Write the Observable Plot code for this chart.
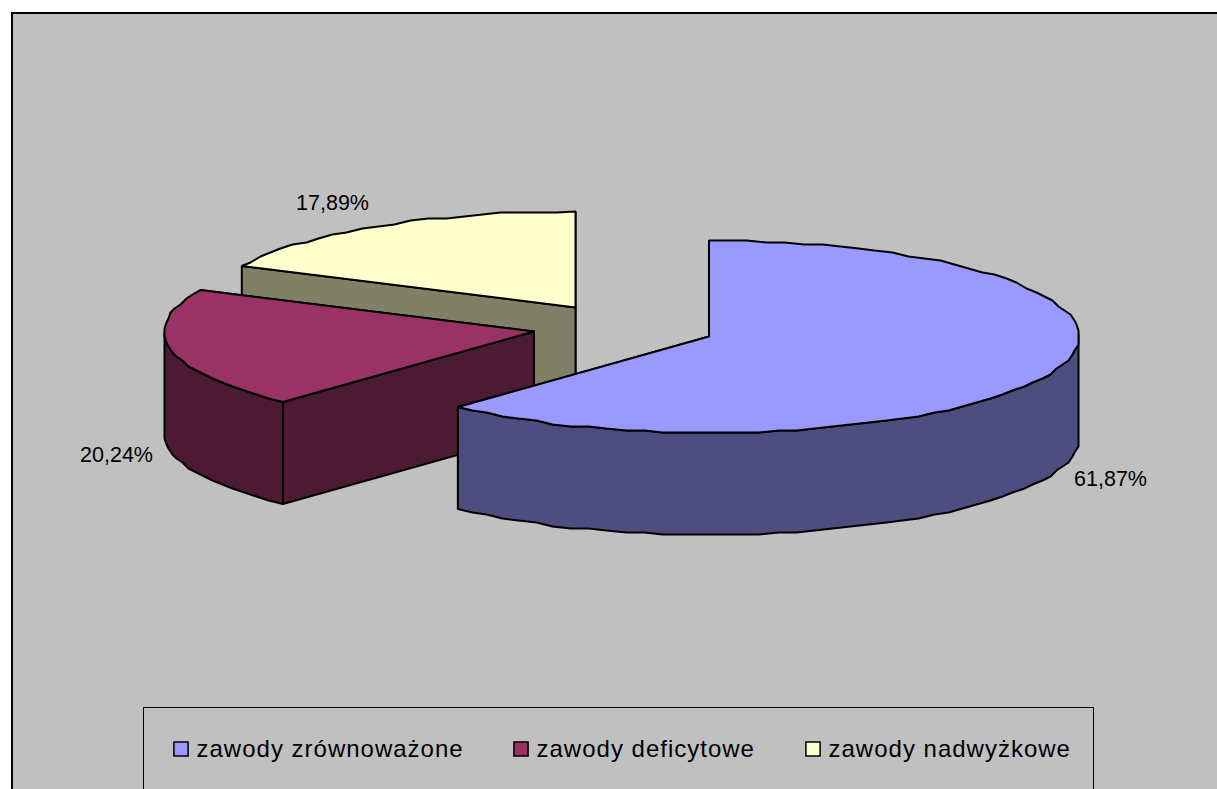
<!DOCTYPE html>
<html><head><meta charset="utf-8">
<script src="https://cdn.jsdelivr.net/npm/d3@7"></script>
<script src="https://cdn.jsdelivr.net/npm/@observablehq/plot@0.6"></script>
<style>html,body{margin:0;padding:0;background:#fff;overflow:hidden}svg{display:block;position:absolute;left:0;top:0}.legend-text text{letter-spacing:1px}</style>
</head><body><div id="chart"></div>
<script>
const categories = ["zawody zrównoważone", "zawody deficytowe", "zawody nadwyżkowe"];
const shares = [61.87, 20.24, 17.89];
const shareLabels = ["61,87%", "20,24%", "17,89%"];
const topColors = ["#9999FF", "#993366", "#FFFFCC"];
const sideColors = ["#4D4D80", "#4D1A33", "#808066"];
const centersX = [708.5, 533.5, 575];
const centersY = [336, 331, 307];
const labelX = [1110, 116, 332];
const labelY = [479, 455, 203];
const legendKeyX = [180.5, 520.5, 812.5];
const legendTextX = [196, 536, 828];
const rx = 370, ry = 96, depth = 102, grid = 2;

const snap = v => Math.round(v / grid) * grid;
let acc = 0;
const slices = shares.map((s, i) => {
  const a0 = acc / 100 * 2 * Math.PI; acc += s;
  const a1 = acc / 100 * 2 * Math.PI;
  const cx = centersX[i], cy = centersY[i];
  const n = Math.ceil((a1 - a0) / (Math.PI / 60));
  const arc = d3.range(n + 1).map(k => {
    const a = a0 + (a1 - a0) * k / n;
    const ex = cx + rx * Math.sin(a), ey = cy - ry * Math.cos(a);
    return (k === 0 || k === n) ? [ex, ey] : [snap(ex), snap(ey)];
  });
  return {i, cx, cy, a0, a1, arc};
});
const down = p => [p[0], p[1] + depth];
const poly = pts => [...pts, pts[0]].map(p => ({x: p[0], y: p[1]}));
const line = (pts, fill) => Plot.line(poly(pts), {x: "x", y: "y", fill, stroke: "#000", strokeWidth: 2, strokeLinejoin: "miter", curve: "linear"});

const sliceMarks = s => {
  const c = [s.cx, s.cy], first = s.arc[0], last = s.arc[s.arc.length - 1];
  const side = sideColors[s.i], top = topColors[s.i];
  const marks = [];
  marks.push(line([c, last, down(last), down(c)], side));
  marks.push(line([c, first, down(first), down(c)], side));
  const front = s.arc.filter((p, k) => {
    const a = s.a0 + (s.a1 - s.a0) * k / (s.arc.length - 1);
    return Math.cos(a) <= 0.02;
  });
  if (front.length > 1) marks.push(line([...front, ...front.slice().reverse().map(down)], side));
  marks.push(line([c, ...s.arc], top));
  return marks;
};

const plot = Plot.plot({
  width: 1217, height: 789,
  margin: 0,
  x: {type: "linear", domain: [0, 1217], range: [0, 1217], axis: null},
  y: {type: "linear", domain: [0, 789], range: [0, 789], axis: null},
  style: {background: "#fff", fontFamily: "'Liberation Sans', Arial, sans-serif"},
  marks: [
    Plot.rect([{}], {x1: () => 12, x2: () => 1240, y1: () => 13, y2: () => 810, fill: "#C0C0C0", stroke: "#000", strokeWidth: 2}),
    ...sliceMarks(slices[2]),
    ...sliceMarks(slices[1]),
    ...sliceMarks(slices[0]),
    Plot.text(shareLabels, {x: (d, i) => labelX[i], y: (d, i) => labelY[i], text: d => d, fontSize: 21.5, fill: "#000"}),
    Plot.rect([{}], {x1: () => 143.5, x2: () => 1093.5, y1: () => 707.5, y2: () => 810, fill: "#C0C0C0", stroke: "#000", strokeWidth: 1}),
    Plot.dot(categories, {x: (d, i) => legendKeyX[i], y: () => 748.5, symbol: "square", r: 8, fill: (d, i) => topColors[i], stroke: "#000", strokeWidth: 1.5}),
    Plot.text(categories, {x: (d, i) => legendTextX[i], y: () => 748.5, text: d => d, textAnchor: "start", fontSize: 24, fill: "#000", className: "legend-text"})
  ]
});
document.getElementById("chart").appendChild(plot);
</script></body></html>
